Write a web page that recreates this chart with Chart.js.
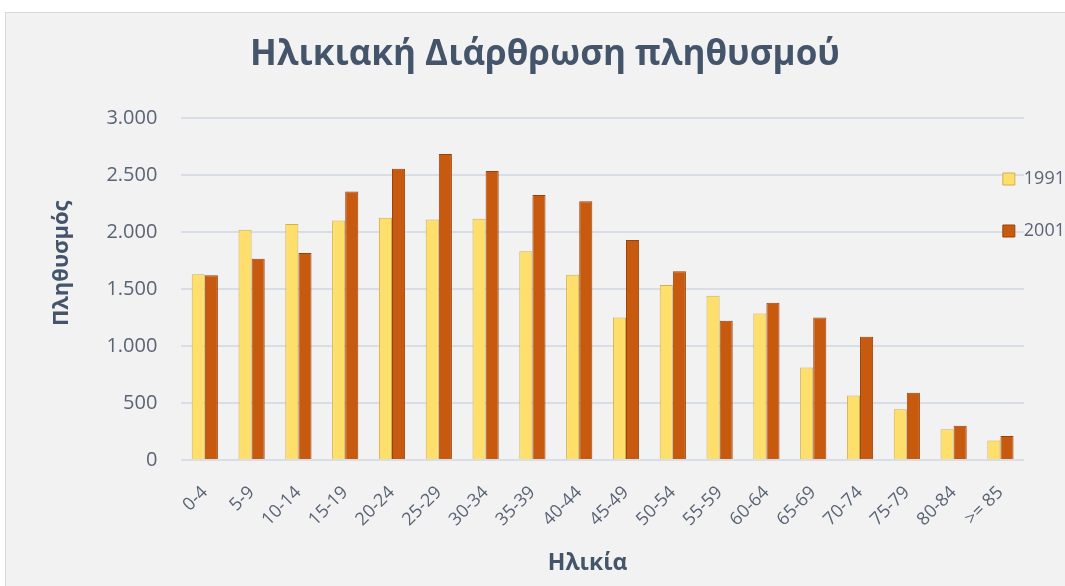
<!DOCTYPE html>
<html>
<head>
<meta charset="utf-8">
<script src="https://cdn.jsdelivr.net/npm/chart.js@4.4.1/dist/chart.umd.min.js"></script>
<style>
  html, body { margin: 0; padding: 0; background: #ffffff; overflow: hidden; }
  #box {
    position: absolute; left: 5px; top: 12px;
    width: 1110px; height: 574px;
    background: #f2f2f2;
    border-top: 1px solid #d9d9d9; border-left: 1px solid #d9d9d9;
  }
  #inner { position: absolute; left: 0; top: 0; width: 1078px; height: 574px; }
</style>
</head>
<body>
<div id="box"><div id="inner"><canvas id="ageChart"></canvas></div></div>
<script>
// Ηλικιακές ομάδες και πληθυσμός ανά απογραφή
const ageGroups = ['0-4', '5-9', '10-14', '15-19', '20-24', '25-29', '30-34', '35-39', '40-44',
                   '45-49', '50-54', '55-59', '60-64', '65-69', '70-74', '75-79', '80-84', '>= 85'];
const pop1991 = [1630, 2020, 2070, 2100, 2125, 2110, 2115, 1830, 1625, 1250, 1535, 1440, 1285, 810, 565, 445, 270, 170];
const pop2001 = [1620, 1765, 1815, 2355, 2555, 2685, 2535, 2325, 2270, 1930, 1655, 1220, 1380, 1250, 1080, 590, 300, 210];
const yearLabels = ['1991', '2001'];

const textDark = '#44546a';
const textTick = '#5a6476';
const nb = '\u00a0';

function fmtThousands(v) {
    return String(v).replace(/\B(?=(\d{3})+(?!\d))/g, '.');
}

// το υπόμνημα στο Excel πατάει λίγο πάνω στην περιοχή σχεδίασης,
// και ο τίτλος κεντράρεται σε όλο το πλάτος
const boxShift = {
    id: 'boxShift',
    afterLayout(chart) {
        const lg = chart.legend;
        const dx = lg.left - (chart.chartArea.right - 55);
        const dy = lg.top - (chart.chartArea.top + 18);
        lg.left -= dx; lg.right -= dx;
        lg.top -= dy; lg.bottom -= dy;
        const tb = chart.titleBlock;
        tb.left = 0;
        tb.right = chart.width;
    }
};

const ctx = document.getElementById('ageChart');
new Chart(ctx, {
    type: 'bar',
    data: {
        labels: ageGroups,
        datasets: [{
            label: yearLabels[0],
            data: pop1991,
            backgroundColor: '#ffdf6b',
            borderColor: '#d2b04c',
            borderWidth: 1
        }, {
            label: yearLabels[1],
            data: pop2001,
            backgroundColor: '#c85a0f',
            borderColor: '#9a4309',
            borderWidth: 1
        }]
    },
    options: {
        responsive: true,
        maintainAspectRatio: false,
        animation: false,
        datasets: {
            bar: { categoryPercentage: 0.56, barPercentage: 1.0 }
        },
        layout: { padding: { left: 30, right: -46, top: 0, bottom: 0 } },
        plugins: {
            title: {
                display: true,
                text: 'Ηλικιακή Διάρθρωση πληθυσμού',
                color: textDark,
                font: { family: 'Open Sans', size: 35, weight: 'bold' },
                padding: { top: 21, bottom: 42 }
            },
            legend: {
                position: 'right',
                align: 'start',
                labels: {
                    color: textTick,
                    font: { family: 'Open Sans', size: 18 },
                    boxWidth: 12,
                    boxHeight: 12,
                    padding: 34
                }
            },
            tooltip: { enabled: false }
        },
        scales: {
            x: {
                grid: { display: false },
                border: { display: false },
                ticks: {
                    color: textTick,
                    font: { family: 'Open Sans', size: 18 },
                    maxRotation: 45,
                    minRotation: 45,
                    autoSkip: false,
                    padding: 14
                },
                title: {
                    display: true,
                    text: 'Ηλικία' + nb.repeat(5),
                    color: textDark,
                    font: { family: 'Open Sans', size: 23, weight: 'bold' },
                    padding: { top: 5, bottom: 10 }
                }
            },
            y: {
                min: 0,
                max: 3000,
                grid: { color: '#d9dde6', lineWidth: 2, drawTicks: false },
                border: { display: false },
                ticks: {
                    stepSize: 500,
                    color: textTick,
                    font: { family: 'Open Sans', size: 20 },
                    padding: 24,
                    callback: function (v) { return fmtThousands(v); }
                },
                title: {
                    display: true,
                    text: nb.repeat(9) + 'Πληθυσμός',
                    color: textDark,
                    font: { family: 'Open Sans', size: 22, weight: 'bold' },
                    padding: { top: 13, bottom: 7 }
                }
            }
        }
    },
    plugins: [boxShift]
});
</script>
</body>
</html>
